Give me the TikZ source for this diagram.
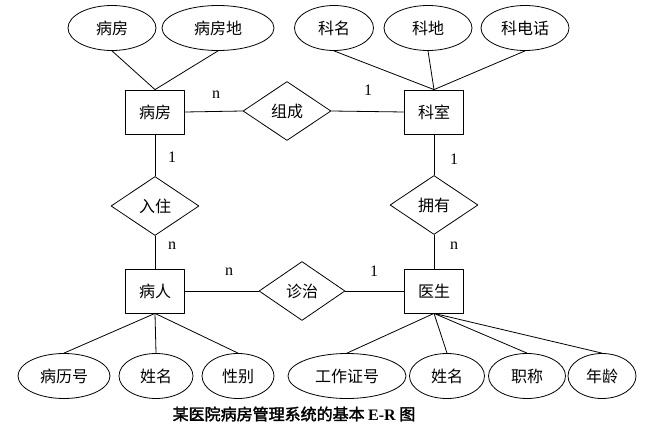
\documentclass[tikz,border=0pt]{standalone}
\usepackage{fontspec}
\setmainfont{Liberation Serif}
\newfontfamily\cjk{Noto Sans CJK SC}[AutoFakeBold=2]
\usetikzlibrary{shapes.geometric}
\tikzset{
  entity/.style={draw,rectangle,minimum width=59pt,minimum height=44pt,inner sep=0pt,
    font=\cjk\fontsize{16}{18}\selectfont},
  attr/.style={draw,ellipse,minimum height=45pt,inner sep=0pt,
    font=\cjk\fontsize{16}{18}\selectfont},
  rel/.style={draw,diamond,minimum width=88pt,minimum height=59pt,inner sep=0pt,
    font=\cjk\fontsize{16}{18}\selectfont},
  card/.style={inner sep=1pt,font=\fontsize{16}{18}\selectfont}
}
\begin{document}
\begin{tikzpicture}[x=1pt,y=-1pt,line width=0.8pt,line cap=round,line join=round]
  \useasboundingbox (0,0) rectangle (645,433);
  % entities
  \node[entity] (ward) at (155,112) {病房};
  \node[entity] (dept) at (434,112) {科室};
  \node[entity] (patient) at (155,291) {病人};
  \node[entity] (doctor) at (434,291) {医生};
  % relationships
  \node[rel] (consist) at (287,111) {组成};
  \node[rel] (stay) at (155,206) {入住};
  \node[rel] (own) at (434,205) {拥有};
  \node[rel,minimum width=86pt] (treat) at (302,291) {诊治};
  % attributes of ward and dept
  \node[attr,minimum width=88pt] (wno) at (112,28) {病房};
  \node[attr,minimum width=112pt] (wloc) at (218,28) {病房地};
  \node[attr,minimum width=79pt] (dname) at (334,28) {科名};
  \node[attr,minimum width=88pt] (dloc) at (428,28) {科地};
  \node[attr,minimum width=88pt] (dtel) at (525,28) {科电话};
  % attributes of patient and doctor
  \node[attr,minimum width=92pt] (pno) at (64,376) {病历号};
  \node[attr,minimum width=74pt] (pname) at (156,376) {姓名};
  \node[attr,minimum width=72pt] (psex) at (238,376) {性别};
  \node[attr,minimum width=118pt] (dcno) at (347,376) {工作证号};
  \node[attr,minimum width=75pt] (dcname) at (447,376) {姓名};
  \node[attr,minimum width=77pt] (dctitle) at (527,376) {职称};
  \node[attr,minimum width=68pt] (dcage) at (602,376) {年龄};
  % connectors
  \draw (wno.south) -- (ward.north);
  \draw (wloc.south) -- (ward.north);
  \draw (dname.south) -- (dept.north);
  \draw (dloc.south) -- (dept.north);
  \draw (dtel.south) -- (dept.north);
  \draw (ward.east) -- (consist.west);
  \draw (consist.east) -- (dept.west);
  \draw (ward.south) -- (stay.north);
  \draw (stay.south) -- (patient.north);
  \draw (dept.south) -- (own.north);
  \draw (own.south) -- (doctor.north);
  \draw (patient.east) -- (treat.west);
  \draw (treat.east) -- (doctor.west);
  \draw (patient.south) -- (pno.north);
  \draw (patient.south) -- (pname.north);
  \draw (patient.south) -- (psex.north);
  \draw (doctor.south) -- (dcno.north);
  \draw (doctor.south) -- (dcname.north);
  \draw (doctor.south) -- (dctitle.north);
  \draw (doctor.south) -- (dcage.north);
  % cardinalities
  \node[card] (c1) at (216,95) {n};
  \node[card] (c2) at (368,90) {1};
  \node[card] (c3) at (172,157) {1};
  \node[card] (c4) at (172,246) {n};
  \node[card] (c5) at (454,159) {1};
  \node[card] (c6) at (454,246) {n};
  \node[card] (c7) at (229,272) {n};
  \node[card] (c8) at (374,271) {1};
  % caption
  \node[font=\cjk\bfseries\fontsize{16}{18}\selectfont] (title) at (294,414)
    {某医院病房管理系统的基本 {\rmfamily\bfseries E-R} 图};
\end{tikzpicture}
\end{document}
